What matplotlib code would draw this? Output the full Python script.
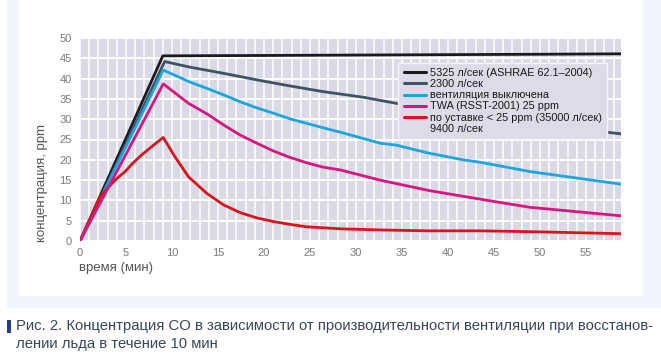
import matplotlib.pyplot as plt
from matplotlib.patches import Rectangle
from matplotlib.ticker import MultipleLocator
from matplotlib import font_manager

# --- data (time in min, CO in ppm) ---
t_black = [0, 9.0, 20, 30, 40, 50, 58.8]
co_black = [0, 45.6, 45.7, 45.8, 45.9, 46.0, 46.1]

t_gray = [0, 9.2, 12.0, 15.6, 19.2, 22.8, 26.4, 28.3, 30.8, 34.4, 40, 45, 50, 54, 57.6, 58.8]
co_gray = [0, 44.2, 42.8, 41.3, 39.7, 38.2, 36.8, 36.2, 35.4, 33.9, 32.2, 30.7, 29.2, 27.9, 26.7, 26.4]

t_cyan = [0, 9.05, 12.0, 13.8, 15.6, 17.4, 19.2, 21.0, 22.8, 24.6, 26.4, 28.3, 32.6, 34.4, 38.0, 41.6, 43.5, 48.9, 58.8]
co_cyan = [0, 42.1, 39.1, 37.6, 36.0, 34.3, 32.8, 31.5, 30.1, 29.0, 27.9, 26.8, 24.1, 23.6, 21.6, 20.0, 19.4, 17.1, 14.0]

t_mag = [0, 9.05, 11.8, 13.8, 15.6, 17.4, 19.2, 21.0, 22.8, 24.6, 26.4, 28.3, 32.6, 38.0, 43.5, 48.9, 58.8]
co_mag = [0, 38.7, 33.9, 31.3, 28.6, 26.1, 24.1, 22.2, 20.6, 19.3, 18.2, 17.5, 15.0, 12.4, 10.3, 8.3, 6.2]

t_red = [0, 2.2, 3.1, 4.0, 4.9, 5.8, 6.7, 8.15, 9.05, 10.3, 11.8, 13.8, 15.6, 17.4, 19.2, 21.0, 22.8, 24.6, 28.3, 33.0, 38.0, 43.5, 48.9, 58.8]
co_red = [0, 10.9, 13.3, 15.4, 17.1, 19.3, 21.2, 23.9, 25.5, 20.8, 15.8, 11.7, 8.9, 7.0, 5.7, 4.8, 4.1, 3.5, 3.0, 2.7, 2.5, 2.5, 2.3, 1.8]

labels = ["5325 л/сек (ASHRAE 62.1–2004)", "2300 л/сек", "вентиляция выключена",
          "TWA (RSST-2001) 25 ppm", "по уставке < 25 ppm (35000 л/сек)", "9400 л/сек"]
caption1 = "Рис. 2. Концентрация CO в зависимости от производительности вентиляции при восстанов-"
caption2 = "лении льда в течение 10 мин"

names = {f.name for f in font_manager.fontManager.ttflist}
narrow = "Liberation Sans Narrow" in names
plt.rcParams["font.family"] = ["Liberation Sans", "DejaVu Sans"]

W, H = 661, 359
fig = plt.figure(figsize=(W / 100, H / 100), dpi=100, facecolor="white")

# light frame and white card behind the chart
fig.patches.append(Rectangle((7 / W, 1 - 308 / H), 1, 308 / H, transform=fig.transFigure,
                             facecolor="#f2f6fa", edgecolor="none", zorder=-10))
fig.patches.append(Rectangle((19 / W, 1 - 296 / H), (643 - 19) / W, 296 / H, transform=fig.transFigure,
                             facecolor="white", edgecolor="none", zorder=-9))

ax = fig.add_axes([80 / W, 1 - 241 / H, 541 / W, 203 / H])
ax.set_zorder(1)
ax.set_facecolor("#dad9e6")
for s in ax.spines.values():
    s.set_visible(False)

ax.set_xlim(0, 58.8)
ax.set_ylim(0, 50)
ax.xaxis.set_major_locator(MultipleLocator(5))
ax.xaxis.set_minor_locator(MultipleLocator(1))
ax.yaxis.set_major_locator(MultipleLocator(5))
ax.grid(True, which="both", axis="x", color="white", linewidth=1.1)
ax.grid(True, which="major", axis="y", color="white", linewidth=1.4)
ax.set_axisbelow(True)
ax.tick_params(which="both", length=0, labelsize=8, labelcolor="#7a7a7a")
ax.tick_params(axis="y", pad=6)
ax.tick_params(axis="x", pad=5)

lw = 2.0
style = dict(lw=lw, solid_joinstyle="round", solid_capstyle="round")
ax.plot(t_black, co_black, color="#1b1b1f", label=labels[0], zorder=3, **style)
ax.plot(t_gray, co_gray, color="#3e5364", label=labels[1], zorder=3, **style)
ax.plot(t_cyan, co_cyan, color="#1ba6e0", label=labels[2], zorder=3, **style)
ax.plot(t_mag, co_mag, color="#d6177f", label=labels[3], zorder=5, **style)
ax.plot(t_red, co_red, color="#d9141b", label=labels[4], zorder=4, **style)
ax.plot([], [], color="none", label=labels[5])

leg = ax.legend(loc="upper left", bbox_to_anchor=(0.588, 0.878), fontsize=7.8,
                frameon=True, fancybox=False, framealpha=1, facecolor="#dcdbe7",
                edgecolor="#f4f4f8", handlelength=2.1, handletextpad=0.3,
                labelspacing=0.1, borderpad=0.5, borderaxespad=0)
leg.get_frame().set_linewidth(1.0)
leg.set_zorder(6)
for line in leg.get_lines():
    line.set_linewidth(2.2)
for txt in leg.get_texts():
    txt.set_color("#1a1a1a")

fig.text(79 / W, 1 - 268 / H, "время (мин)", fontsize=9.5, color="#555555", va="center", ha="left")
fig.text(42 / W, 1 - 242 / H, "концентрация, ppm", fontsize=9.5, color="#555555",
         rotation=90, va="bottom", ha="center")

# caption
fig.patches.append(Rectangle((7 / W, 1 - 333 / H), 4 / W, 13 / H, transform=fig.transFigure,
                             facecolor="#2b3a8f", edgecolor="none"))
cap_font = ["Liberation Sans Narrow", "Liberation Sans"] if narrow else ["Liberation Sans"]
cap_size = 12.9 if narrow else 10.7
fig.text(16 / W, 1 - 326 / H, caption1, fontsize=cap_size, color="#3a4658", family=cap_font,
         va="center", ha="left")
fig.text(16 / W, 1 - 344 / H, caption2, fontsize=cap_size, color="#3a4658", family=cap_font,
         va="center", ha="left")

fig.savefig("out.png", dpi=100, facecolor="white")
